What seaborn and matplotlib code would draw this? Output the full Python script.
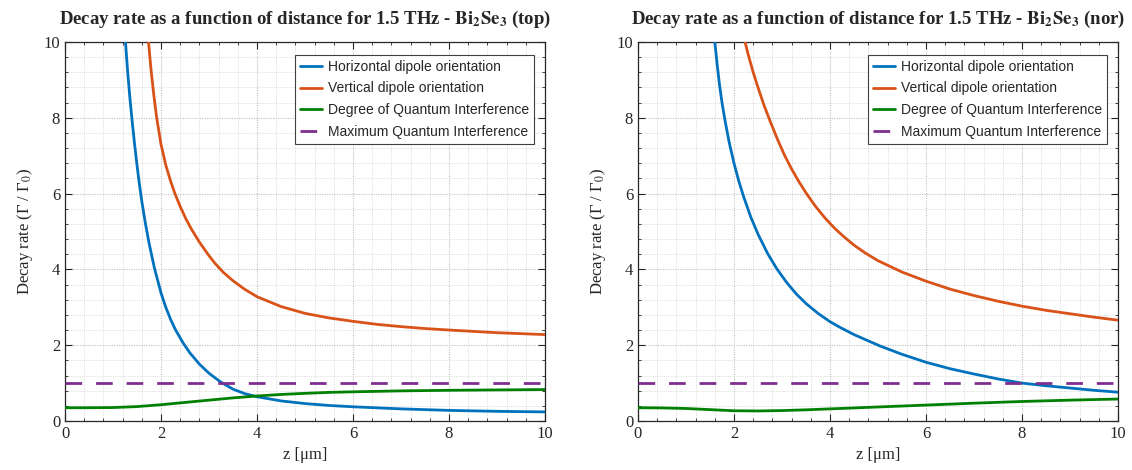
import numpy as np
import pandas as pd
import matplotlib
matplotlib.use("Agg")
import matplotlib.pyplot as plt
from matplotlib.ticker import MultipleLocator
import seaborn as sns

# ---------------- data ----------------
panel_tags = ["top", "nor"]

# panel "top"
top_h_z = [1.26, 1.30, 1.35, 1.40, 1.45, 1.50, 1.55, 1.60, 1.67, 1.75, 1.86, 2.0, 2.1, 2.2,
           2.3, 2.46, 2.6, 2.8, 3.0, 3.23, 3.5, 3.75, 4.0, 4.5, 5.0, 5.5, 6.0, 7.0, 8.0,
           9.0, 10.0]
top_h_v = [10.0, 9.3, 8.55, 7.9, 7.3, 6.75, 6.25, 5.8, 5.25, 4.7, 4.05, 3.38, 3.0, 2.68,
           2.41, 2.06, 1.8, 1.5, 1.26, 1.04, 0.84, 0.72, 0.64, 0.53, 0.46, 0.41, 0.375,
           0.32, 0.28, 0.255, 0.24]
top_v_z = [1.74, 1.79, 1.85, 1.91, 2.0, 2.1, 2.2, 2.29, 2.4, 2.52, 2.64, 2.8, 3.0, 3.125,
           3.3, 3.5, 3.75, 4.0, 4.5, 5.0, 5.5, 6.0, 6.5, 7.0, 7.5, 8.0, 9.0, 10.0]
top_v_v = [10.0, 9.3, 8.6, 8.0, 7.3, 6.75, 6.33, 6.0, 5.66, 5.33, 5.05, 4.72, 4.36, 4.16,
           3.92, 3.7, 3.47, 3.28, 3.02, 2.84, 2.72, 2.63, 2.55, 2.49, 2.44, 2.40, 2.33, 2.28]
top_q_z = [0, 0.5, 1.0, 1.5, 2.0, 2.5, 3.0, 3.5, 4.0, 4.5, 5.0, 5.5, 6, 7, 8, 9, 10]
top_q_v = [0.35, 0.35, 0.355, 0.38, 0.43, 0.49, 0.55, 0.61, 0.66, 0.70, 0.73, 0.755,
           0.77, 0.795, 0.81, 0.82, 0.83]

# panel "nor"
nor_h_z = [1.6, 1.65, 1.7, 1.75, 1.81, 1.9, 2.0, 2.1, 2.2, 2.35, 2.5, 2.7, 2.89, 3.1, 3.3,
           3.5, 3.75, 4.0, 4.21, 4.5, 5.04, 5.5, 6.0, 6.5, 7.0, 7.5, 8.0, 8.5, 9.0, 9.5, 10.0]
nor_h_v = [10.0, 9.4, 8.85, 8.4, 7.95, 7.35, 6.8, 6.33, 5.92, 5.38, 4.93, 4.42, 4.02, 3.65,
           3.35, 3.1, 2.84, 2.62, 2.47, 2.28, 1.98, 1.76, 1.55, 1.38, 1.24, 1.11, 1.0, 0.93,
           0.87, 0.81, 0.76]
nor_v_z = [2.23, 2.3, 2.4, 2.5, 2.62, 2.75, 2.9, 3.05, 3.2, 3.35, 3.51, 3.7, 3.9, 4.1, 4.3,
           4.5, 4.75, 5.0, 5.5, 6.0, 6.5, 7.0, 7.5, 8.0, 8.5, 9.0, 9.5, 10.0]
nor_v_v = [10.0, 9.65, 9.2, 8.8, 8.35, 7.92, 7.45, 7.02, 6.65, 6.32, 6.0, 5.66, 5.35, 5.08,
           4.85, 4.64, 4.42, 4.23, 3.93, 3.69, 3.48, 3.31, 3.16, 3.03, 2.92, 2.83, 2.74, 2.66]
nor_q_z = [0, 0.5, 1.0, 1.5, 2.0, 2.5, 3.0, 3.5, 4.0, 4.5, 5.0, 6, 7, 8, 9, 10]
nor_q_v = [0.35, 0.345, 0.33, 0.30, 0.27, 0.265, 0.275, 0.295, 0.32, 0.345, 0.37, 0.42,
           0.47, 0.515, 0.55, 0.58]

max_qi_z = [0, 10]
max_qi_v = [1, 1]

series_labels = ["Horizontal dipole orientation", "Vertical dipole orientation",
                 "Degree of Quantum Interference", "Maximum Quantum Interference"]
series_colors = ["#0072BD", "#D95319", "#008000", "#7E2F8E"]

panels = [
    [(top_h_z, top_h_v), (top_v_z, top_v_v), (top_q_z, top_q_v), (max_qi_z, max_qi_v)],
    [(nor_h_z, nor_h_v), (nor_v_z, nor_v_v), (nor_q_z, nor_q_v), (max_qi_z, max_qi_v)],
]

# ---------------- style ----------------
sns.set_theme(style="ticks")
plt.rcParams["font.family"] = ["Liberation Serif", "DejaVu Serif"]
plt.rcParams["mathtext.fontset"] = "stix"

fig = plt.figure(figsize=(11.32, 4.70), dpi=100)
ax_rects = [[65 / 1132, 49 / 470, 480 / 1132, 379 / 470],
            [638 / 1132, 49 / 470, 480 / 1132, 379 / 470]]

for rect, tag, data in zip(ax_rects, panel_tags, panels):
    ax = fig.add_axes(rect)
    for (z, v), lab, col in zip(data, series_labels, series_colors):
        df = pd.DataFrame({"z": z, "v": v})
        sns.lineplot(data=df, x="z", y="v", ax=ax, color=col, lw=2.0,
                     label=lab, zorder=3)
        if lab.startswith("Maximum"):
            ax.lines[-1].set_dashes((6, 5))
    ax.set_xlim(0, 10)
    ax.set_ylim(0, 10)
    ax.xaxis.set_major_locator(MultipleLocator(2))
    ax.yaxis.set_major_locator(MultipleLocator(2))
    ax.xaxis.set_minor_locator(MultipleLocator(0.4))
    ax.yaxis.set_minor_locator(MultipleLocator(0.4))
    ax.grid(which="major", color="#c0c0c0", linestyle=(0, (1, 1.2)), linewidth=0.8)
    ax.grid(which="minor", color="#d6d6d6", linestyle=(0, (1, 1.2)), linewidth=0.6)
    ax.set_axisbelow(True)
    ax.tick_params(which="both", direction="in", top=True, right=True,
                   labelsize=12, colors="#262626")
    ax.tick_params(which="major", length=5, width=0.8)
    ax.tick_params(which="minor", length=2.5, width=0.6)
    for s in ax.spines.values():
        s.set_color("#262626")
        s.set_linewidth(0.9)
    ax.set_xlabel("z [μm]", fontsize=12, labelpad=4)
    ax.set_ylabel("Decay rate (Γ / Γ$_0$)", fontsize=12, labelpad=6)
    ax.set_title("Decay rate as a function of distance for 1.5 THz - $\\mathbf{Bi_2Se_3}$ (" + tag + ")",
                 fontsize=13.5, fontweight="bold", pad=13)
    leg = ax.legend(loc="upper right", bbox_to_anchor=(0.977, 0.966),
                    prop={"family": "Liberation Sans", "size": 10},
                    frameon=True, fancybox=False, edgecolor="#404040",
                    framealpha=1.0, handlelength=1.6, handletextpad=0.4,
                    labelspacing=0.55, borderpad=0.35, borderaxespad=0.0)
    leg.get_frame().set_linewidth(0.8)

fig.savefig("out.png", dpi=100)
